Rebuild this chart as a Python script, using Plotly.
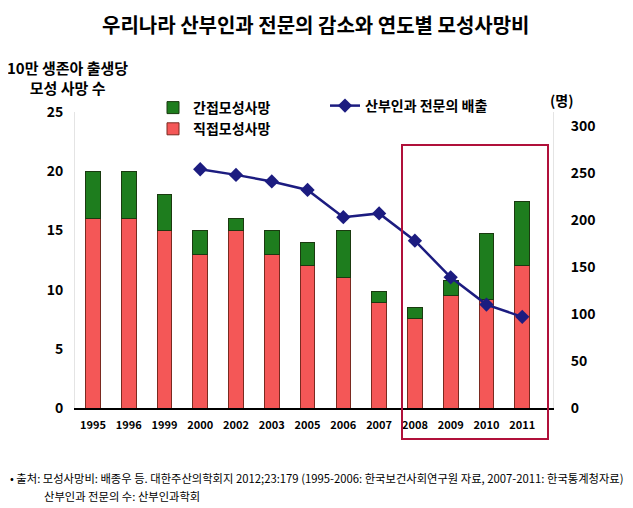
import plotly.graph_objects as go

years = ["1995", "1996", "1999", "2000", "2002", "2003", "2005", "2006", "2007", "2008", "2009", "2010", "2011"]
direct = [16, 16, 15, 13, 15, 13, 12, 11, 8.9, 7.6, 9.5, 9.2, 12.0]
total = [20, 20, 18, 15, 16, 15, 14, 15, 9.8, 8.5, 10.8, 14.7, 17.4]
indirect = [round(t - d, 2) for t, d in zip(total, direct)]
line_years = ["2000", "2002", "2003", "2005", "2006", "2007", "2008", "2009", "2010", "2011"]
graduates = [254, 248, 241, 232, 203, 207, 178, 139, 110, 97]

FONT = "Noto Sans CJK KR"
OFF = 8  # page body margin
W, H = 633 - OFF, 508 - OFF
PL, PR, PT, PB = 75, 553, 112, 408  # plot area in page pixels
L, R, T, B = PL - OFF, W - (PR - OFF), PT - OFF, H - (PB - OFF)

def px2paper_x(px):
    return (px - OFF - L) / (W - L - R)

def px2paper_y(py):
    return (H - B - (py - OFF)) / (H - T - B)

fig = go.Figure()
fig.add_trace(go.Bar(x=years, y=direct, name="직접모성사망",
                     marker=dict(color="#F45757", line=dict(color="#7a2a20", width=1)),
                     legend="legend"))
fig.add_trace(go.Bar(x=years, y=indirect, name="간접모성사망",
                     marker=dict(color="#1E7D1E", line=dict(color="#1a3a10", width=1)),
                     legend="legend"))
fig.add_trace(go.Scatter(x=line_years, y=graduates, name="산부인과 전문의 배출", yaxis="y2",
                         mode="lines+markers",
                         line=dict(color="#1C1C80", width=2.5),
                         marker=dict(symbol="diamond", size=11, color="#1C1C80"),
                         legend="legend2"))

fig.add_shape(type="rect", xref="paper", yref="paper",
              x0=px2paper_x(402), x1=px2paper_x(548),
              y0=px2paper_y(439), y1=px2paper_y(145),
              line=dict(color="#B0103A", width=2), layer="above")

fig.update_layout(
    width=W, height=H,
    margin=dict(l=L, r=R, t=T, b=B),
    paper_bgcolor="white", plot_bgcolor="white",
    font=dict(family=FONT, color="black"),
    barmode="stack", bargap=0.59,
    showlegend=True,
    legend=dict(x=px2paper_x(153), y=px2paper_y(92), xanchor="left", yanchor="top",
                traceorder="reversed", font=dict(size=14, family=FONT, weight="bold"),
                bgcolor="rgba(0,0,0,0)", tracegroupgap=0),
    legend2=dict(x=px2paper_x(325), y=px2paper_y(90), xanchor="left", yanchor="top",
                 font=dict(size=14, family=FONT, weight="bold"), bgcolor="rgba(0,0,0,0)"),
    xaxis=dict(type="category", showline=True, linecolor="black", linewidth=1.5,
               ticks="", ticklabelstandoff=6, tickfont=dict(size=11, family=FONT, weight="bold"),
               showgrid=False, zeroline=False),
    yaxis=dict(range=[0, 25], tickvals=[0, 5, 10, 15, 20, 25], showgrid=False, zeroline=False,
               showline=True, linecolor="#e4e4e4", linewidth=1, ticks="",
               ticklabelstandoff=8,
               tickfont=dict(size=14, family=FONT, weight="bold")),
    yaxis2=dict(overlaying="y", side="right", range=[0, 300 * 296 / 282],
                tickvals=[0, 50, 100, 150, 200, 250, 300], showgrid=False, zeroline=False,
                showline=True, linecolor="#e4e4e4", linewidth=1, ticks="",
                ticklabelstandoff=14,
                tickfont=dict(size=14, family=FONT, weight="bold")),
)

fig.add_annotation(text="<b>우리나라 산부인과 전문의 감소와 연도별 모성사망비</b>",
                   xref="paper", yref="paper", x=px2paper_x(316), y=px2paper_y(8),
                   xanchor="center", yanchor="top", showarrow=False,
                   font=dict(size=20, family=FONT))
fig.add_annotation(text="<b>10만 생존아 출생당<br>모성 사망 수</b>",
                   xref="paper", yref="paper", x=px2paper_x(67), y=px2paper_y(78),
                   xanchor="center", yanchor="middle", showarrow=False, align="center",
                   font=dict(size=15, family=FONT))
fig.add_annotation(text="<b>(명)</b>",
                   xref="paper", yref="paper", x=px2paper_x(561), y=px2paper_y(100),
                   xanchor="center", yanchor="middle", showarrow=False,
                   font=dict(size=14, family=FONT))
fig.add_annotation(text="• 출처: 모성사망비: 배종우 등. 대한주산의학회지 2012;23:179 (1995-2006: 한국보건사회연구원 자료, 2007-2011: 한국통계청자료)",
                   xref="paper", yref="paper", x=px2paper_x(8), y=px2paper_y(478),
                   xanchor="left", yanchor="middle", showarrow=False,
                   font=dict(size=11.3, family=FONT))
fig.add_annotation(text="산부인과 전문의 수: 산부인과학회",
                   xref="paper", yref="paper", x=px2paper_x(42), y=px2paper_y(496),
                   xanchor="left", yanchor="middle", showarrow=False,
                   font=dict(size=11.3, family=FONT))

fig.write_html("out.html")
